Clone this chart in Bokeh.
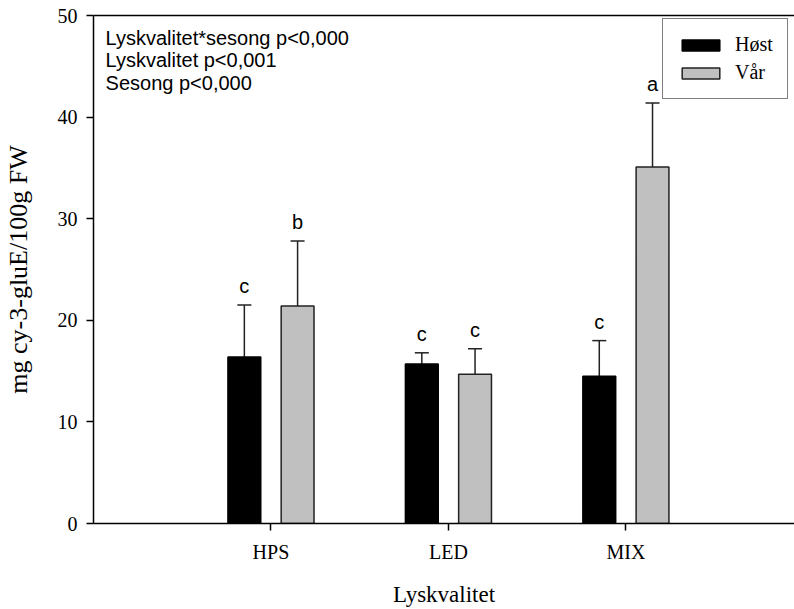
from bokeh.plotting import figure
from bokeh.models import (Range1d, LinearAxis, FixedTicker, Whisker, TeeHead,
                          ColumnDataSource, Legend, LegendItem, Label)
from bokeh.core.properties import value
from bokeh.embed import file_html
from bokeh.resources import INLINE

# ---- data ----
categories = ["HPS", "LED", "MIX"]
x_pos = [1, 2, 3]
host_mean = [16.4, 15.7, 14.5]
host_err = [5.1, 1.1, 3.5]
var_mean = [21.4, 14.7, 35.1]
var_err = [6.4, 2.5, 6.3]
host_letters = ["c", "c", "c"]
var_letters = ["b", "c", "a"]
y_ticks = [0, 10, 20, 30, 40, 50]
stats_lines = ["Lyskvalitet*sesong p<0,000", "Lyskvalitet p<0,001", "Sesong p<0,000"]
stats_y = [47.8, 45.65, 43.4]

offset = 0.15
bar_w = 0.185

src = ColumnDataSource(dict(
    hx=[x - offset for x in x_pos],
    vx=[x + offset for x in x_pos],
    host=host_mean,
    host_hi=[m + e for m, e in zip(host_mean, host_err)],
    var=var_mean,
    var_hi=[m + e for m, e in zip(var_mean, var_err)],
    hl=host_letters,
    vl=var_letters,
))

serif = "Liberation Serif"
sans = "Liberation Sans"

p = figure(width=794, height=609, output_backend="svg", toolbar_location=None,
           x_range=Range1d(0, 3.95), y_range=Range1d(0, 50),
           min_border_left=93, min_border_right=0, min_border_top=15,
           min_border_bottom=86)
p.outline_line_color = None
p.xgrid.visible = False
p.ygrid.visible = False

r_h = p.vbar(x="hx", top="host", width=bar_w, source=src,
             fill_color="black", line_color="black", line_width=1.5)
r_v = p.vbar(x="vx", top="var", width=bar_w, source=src,
             fill_color="#c0c0c0", line_color="#222222", line_width=1.5)

for xcol, lo, hi in (("hx", "host", "host_hi"), ("vx", "var", "var_hi")):
    w = Whisker(source=src, base=xcol, lower=lo, upper=hi, dimension="height",
                line_color="#222222", line_width=1.5, lower_head=None,
                upper_head=TeeHead(size=14, line_width=1.5, line_color="#222222"))
    p.add_layout(w)

p.text(x="hx", y="host_hi", text="hl", source=src, text_align="center",
       text_baseline="alphabetic", y_offset=-19, text_font=value(sans),
       text_font_size="20px", text_color="black")
p.text(x="vx", y="var_hi", text="vl", source=src, text_align="center",
       text_baseline="alphabetic", y_offset=-19, text_font=value(sans),
       text_font_size="20px", text_color="black")

for t, yy in zip(stats_lines, stats_y):
    p.add_layout(Label(x=0.068, y=yy, text=t, text_font=sans,
                       text_font_size="20px", text_baseline="alphabetic",
                       text_color="black"))

# axes
xa = p.xaxis[0]
xa.ticker = FixedTicker(ticks=x_pos)
xa.major_label_overrides = {x: c for x, c in zip(x_pos, categories)}
xa.axis_label = "Lyskvalitet"
ya = p.yaxis[0]
ya.ticker = FixedTicker(ticks=y_ticks)
ya.axis_label = "mg cy-3-gluE/100g FW"
for ax in (xa, ya):
    ax.axis_line_color = "black"
    ax.axis_line_width = 1.5
    ax.major_tick_line_color = "black"
    ax.major_tick_line_width = 1.5
    ax.major_tick_in = 0
    ax.major_tick_out = 7
    ax.minor_tick_line_color = None
    ax.major_label_text_font = serif
    ax.major_label_text_font_size = "20px"
    ax.major_label_text_color = "black"
    ax.axis_label_text_font = serif
    ax.axis_label_text_font_style = "normal"
    ax.axis_label_text_color = "black"
xa.axis_label_text_font_size = "23px"
ya.axis_label_text_font_size = "26px"
xa.major_label_standoff = 10
xa.axis_label_standoff = 16
ya.major_label_standoff = 9
ya.axis_label_standoff = 22

top_axis = LinearAxis(ticker=FixedTicker(ticks=[]), major_label_text_font_size="0px",
                      axis_line_color="black", axis_line_width=1.5,
                      major_tick_line_color=None, minor_tick_line_color=None)
p.add_layout(top_axis, "above")

legend = Legend(items=[LegendItem(label="Høst", renderers=[r_h]),
                       LegendItem(label="Vår", renderers=[r_v])],
                location=(569, 424), padding=14, spacing=5, margin=0,
                glyph_width=47, glyph_height=14, label_height=20,
                label_standoff=11, label_text_font=serif,
                label_text_font_size="20px", label_text_color="black",
                border_line_color="black", border_line_width=1.5,
                background_fill_color="white", background_fill_alpha=1)
p.add_layout(legend)

open("out.html", "w").write(file_html(p, INLINE))
